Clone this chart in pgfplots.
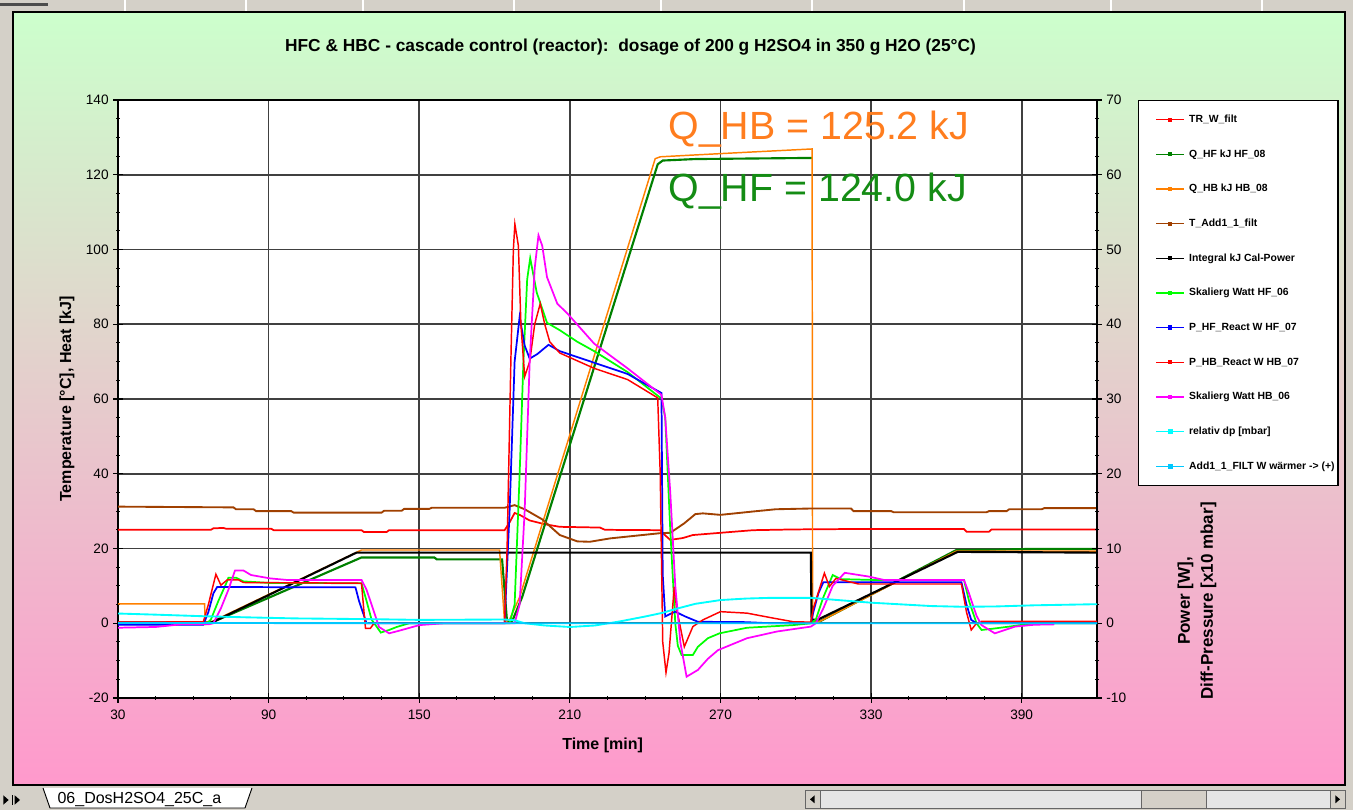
\documentclass[border=0pt]{standalone}
\usepackage{fontspec}
\setmainfont{Liberation Sans}
\usepackage{pgfplots}
\pgfplotsset{compat=1.18}

\definecolor{cOrange}{RGB}{255,128,0}
\definecolor{cDGreen}{RGB}{0,128,0}
\definecolor{cBrown}{RGB}{160,64,0}
\definecolor{cLime}{RGB}{0,255,0}
\definecolor{cCyan}{RGB}{0,255,255}
\definecolor{cSky}{RGB}{0,200,255}
\definecolor{cMag}{RGB}{255,0,255}
\definecolor{cRed}{RGB}{255,0,0}
\definecolor{cBlue}{RGB}{0,0,255}
\definecolor{bgTop}{RGB}{204,255,204}
\definecolor{bgBot}{RGB}{255,153,204}
\definecolor{winGray}{RGB}{212,208,200}
\definecolor{annOrange}{RGB}{255,125,30}
\definecolor{annGreen}{RGB}{20,140,20}

\begin{document}
\begin{tikzpicture}
\path[use as bounding box] (0,0) rectangle (1014.75pt,607.5pt);
% window frame
\fill[winGray] (0,0) rectangle (1014.75pt,607.5pt);
\foreach \sx in {125,246,363,514,661,812,964,1111,1262}{
  \draw[white, line width=0.8pt] ({\sx*0.75pt},598.5pt) -- ({\sx*0.75pt},607.5pt);}
\fill[black!70] (0pt,603pt) rectangle (36pt,605pt);
% chart area
\shade[top color=bgTop, bottom color=bgBot] (9.75pt,18.75pt) rectangle (1008.75pt,598.5pt);
\draw[black, line width=1.1pt] (9.75pt,18.75pt) rectangle (1008.75pt,598.5pt);
% bottom tab bar
\fill[black] (2.5pt,11pt) -- (6.5pt,7.5pt) -- (2.5pt,4pt) -- cycle;
\fill[black] (11pt,11pt) -- (15pt,7.5pt) -- (11pt,4pt) -- cycle;
\draw[black, line width=0.6pt] (9.5pt,11pt) -- (9.5pt,4pt);
\filldraw[fill=white, draw=black, line width=0.7pt] (32.25pt,16.5pt) -- (37.5pt,1.5pt) -- (183.75pt,1.5pt) -- (189pt,16.5pt);
\node[anchor=base west, inner sep=0pt, font=\fontsize{12}{14}\selectfont] at (43pt,4.5pt) {06\_DosH2SO4\_25C\_a};
\filldraw[fill=black!10, draw=black!60, line width=0.5pt] (603.75pt,1pt) rectangle (1008.75pt,15pt);
\filldraw[fill=winGray, draw=black!60, line width=0.5pt] (603.75pt,1pt) rectangle (615pt,15pt);
\filldraw[fill=winGray, draw=black!60, line width=0.5pt] (997.5pt,1pt) rectangle (1008.75pt,15pt);
\filldraw[fill=winGray, draw=black!60, line width=0.5pt] (855.75pt,1pt) rectangle (904.5pt,15pt);
\fill[black] (611pt,11pt) -- (607.5pt,8pt) -- (611pt,5pt) -- cycle;
\fill[black] (1001.5pt,11pt) -- (1005pt,8pt) -- (1001.5pt,5pt) -- cycle;
% title
\node[font=\bfseries\fontsize{13}{15}\selectfont] at (472.9pt,572.25pt)
  {HFC \& HBC - cascade control (reactor):\ \ dosage of 200 g H2SO4 in 350 g H2O (25°C)};
% right axis label
\node[rotate=90, align=center, font=\bfseries\fontsize{12.75}{17.25}\selectfont] at (897.75pt,156.75pt) {Power [W],\\Diff-Pressure [x10 mbar]};

\begin{axis}[
  at={(88.5pt,84pt)}, anchor=south west,
  scale only axis, width=734.25pt, height=448.5pt,
  xmin=30, xmax=420, ymin=-20, ymax=140,
  xtick={30,90,...,390}, ytick={-20,0,...,140},
  minor x tick num=3, minor y tick num=3,
  xtick pos=bottom, ytick pos=left,
  tick align=center, major tick length=7pt, minor tick length=3pt,
  tick style={black, line width=0.8pt},
  grid=major, major grid style={black!75, line width=1.2pt},
  axis background/.style={fill=white},
  axis line style={black, line width=1.1pt},
  /pgf/number format/assume math mode=true,
  ticklabel style={font=\fontsize{10.25}{12}\selectfont},
  xticklabel style={yshift=-2pt},
  xlabel={Time [min]},
  ylabel={Temperature [°C], Heat [kJ]},
  label style={font=\bfseries\fontsize{12}{14}\selectfont},
  xlabel style={at={(0.495,-0.0786)}, anchor=center},
  ylabel style={at={(-0.0521,0.5)}, anchor=center},
  unbounded coords=jump,
]
% TR_W_filt
\addplot[cRed, line width=1.3pt] coordinates {
(30,25.0) (67,25.0) (68,25.4) (72,25.5) (73,25.3) (91,25.3) (92,24.9) (127,24.9) (128,24.4) (137,24.4) (138,24.9) (184,24.9) (186,27) (188,29.5) (190,29) (194,27.5) (200,26.5) (206,25.8) (222,25.6) (224,25.0) (246,24.9) (248,23.5) (250,22.3) (255,22.8) (259,23.6) (270,24.2) (283,24.9) (299,25.1) (320,25.2) (367,25.2) (368,24.5) (377,24.5) (378,25.1) (420,25.1)};
% Q_HF
\addplot[cDGreen, line width=1.6pt] coordinates {
(30,0.3) (66,0.3) (68,0.4) (127,17.6) (156,17.6) (157,17.1) (183,17.1) (185,0.3) (187,0.5) (191,7) (245,122.8) (247,123.8) (260,124.2) (306.5,124.5) (306.6,nan) (306.7,0.3) (309,0.3) (364,19.6) (380,19.7) (395,19.9) (420,19.9)};
% Q_HB
\addplot[cOrange, line width=1.1pt] coordinates {
(30,5.2) (64.5,5.2) (64.7,0.3) (67,0.3) (127,19.6) (182,19.6) (184,0.3) (186,1) (190,7) (244,124.3) (246,124.8) (260,125.3) (280,126) (306.5,126.9) (306.7,0.3) (309,0.3) (364,19.3) (420,19.3)};
% T_Add1_1_filt
\addplot[cBrown, line width=1.4pt] coordinates {
(30,31.2) (76,31.0) (77,30.5) (84,30.5) (85,30.0) (99,30.0) (100,29.6) (135,29.6) (136,30.1) (143,30.1) (144,30.6) (154,30.6) (155,30.9) (184,30.9) (188,31.6) (192,30.5) (199,27.8) (206,23.6) (213,21.9) (218,21.8) (226,22.7) (246,24.1) (250,24.2) (255.5,26.7) (260,29.2) (263,29.4) (270,29.0) (283,29.9) (292,30.5) (306,30.7) (322,30.7) (323,30.0) (338,30.0) (339,29.7) (376,29.7) (377,30.0) (384,30.0) (385,30.5) (398,30.5) (399,30.8) (420,30.8)};
% Integral kJ Cal-Power
\addplot[black, line width=1.6pt] coordinates {
(30,0) (66,0) (68,0.4) (125,18.9) (306,18.9) (306.3,1.0) (308.6,0.9) (364.5,19.1) (420,18.9)};
\node[anchor=base west, inner sep=0pt, text=annOrange, font=\fontsize{29.5}{32}\selectfont] at (axis cs:249.2,129.3) {Q\_HB = 125.2 kJ};
\node[anchor=base west, inner sep=0pt, text=annGreen, font=\fontsize{29.5}{32}\selectfont] at (axis cs:249.2,112.8) {Q\_HF = 124.0 kJ};
\end{axis}

\begin{axis}[
  at={(88.5pt,84pt)}, anchor=south west,
  scale only axis, width=734.25pt, height=448.5pt,
  xmin=30, xmax=420, ymin=-10, ymax=70,
  axis x line=none, axis y line*=right,
  ytick={-10,0,...,70}, minor y tick num=3,
  tick align=center, major tick length=7pt, minor tick length=3pt,
  tick style={black, line width=0.8pt},
  axis line style={-, black, line width=1.1pt},
  /pgf/number format/assume math mode=true,
  ticklabel style={font=\fontsize{10.25}{12}\selectfont},
  legend style={
    at={(1.0419,1)}, anchor=north west,
    draw=black, line width=0.9pt, fill=white,
    inner xsep=2.5pt, inner ysep=10.5pt,
    row sep=18.5pt, column sep=3.2pt,
    font=\bfseries\fontsize{7.8}{9}\selectfont,
    nodes={inner sep=0pt, text height=6pt, text depth=1.5pt},
  },
  legend cell align=left,
  legend image code/.code={\path (0pt,0pt); \draw[#1,line width=1pt] (10pt,0pt) -- (31pt,0pt); \fill[#1] (19.5pt,-1pt) rectangle (21.5pt,1pt);},
]
\addlegendimage{cRed}
\addlegendentry{TR\_W\_filt}
\addlegendimage{cDGreen}
\addlegendentry{Q\_HF kJ HF\_08}
\addlegendimage{cOrange}
\addlegendentry{Q\_HB kJ HB\_08}
\addlegendimage{cBrown}
\addlegendentry{T\_Add1\_1\_filt}
\addlegendimage{black}
\addlegendentry{Integral kJ Cal-Power}
% Skalierg Watt HF_06
\addplot[cLime, line width=1.3pt] coordinates {
(30,-0.15) (65,-0.15) (67,0.5) (70,3) (73,5.25) (74,6.1) (77,6.1) (80,5.6) (90,5.4) (127,5.35) (129,3) (131,0.5) (134.7,-1.25) (138,-0.9) (141,-0.5) (146,0) (186,0) (188,2.5) (190,20) (191.5,35) (193,46) (194.2,48.85) (196.8,44.25) (200.9,40.2) (206,39.2) (213,37.65) (219.7,36.4) (233,33.6) (246.5,30.05) (248,27.5) (250,12.5) (252,0) (253,-3) (254.5,-4.25) (259,-4.25) (261,-3.15) (265,-2) (269.6,-1.35) (280.6,-0.6) (299,-0.25) (306,0) (308,0.5) (311,3.5) (314.7,6.45) (318,5.9) (330,5.8) (367,5.8) (369,3) (372,0) (374,-0.9) (378,-0.75) (385,-0.45) (395,0) (420,0)};
\addlegendentry{Skalierg Watt HF\_06}
% P_HF_React
\addplot[cBlue, line width=1.3pt] coordinates {
(30,-0.2) (64,-0.2) (66,1.5) (68,4) (69.5,4.85) (124.6,4.8) (126,3) (128,1) (129,0) (184,0) (186,15) (188,35) (190,41) (192,37.15) (194,35.4) (197,36) (201.5,37.25) (206,36.4) (219.7,34.85) (233,33.35) (246.5,30.8) (247,6.5) (248,0.9) (250,1.25) (252,1.55) (256,0.9) (261,0.2) (280,0.15) (290,0) (306,0) (307,1.5) (309,4) (311,5.5) (366,5.5) (368,2.5) (369.9,0.45) (372,0) (420,0)};
\addlegendentry{P\_HF\_React W HF\_07}
% P_HB_React
\addplot[cRed, line width=1.1pt] coordinates {
(30,0.2) (64,0.2) (66,2.5) (69,6.55) (71,5.1) (73.5,5.8) (78,5.8) (80,5.45) (127,5.35) (128,1.5) (128.6,-0.7) (130.5,-0.7) (132,0) (184,0) (185,10) (186.5,35) (187.5,50) (188.1,53.4) (189.5,50.5) (190.5,40) (192,33) (194,35) (196,40) (198.2,42.75) (200,40) (202,37.65) (206,36.15) (219.7,34.1) (233,32.6) (245,30.15) (246,20) (247,-2.5) (248.3,-6.6) (249.5,-4) (251.6,4.9) (252.5,2) (255.6,-3.15) (259,-0.45) (263,0.45) (270,1.55) (280.6,1.35) (290,0.75) (299,0.2) (306,0.15) (307,2) (311.4,6.7) (313.4,4.9) (316,6.0) (321.4,5.55) (325,5.25) (366,5.25) (368,1.5) (369.9,-0.9) (372,0) (374,0.25) (420,0.25)};
\addlegendentry{P\_HB\_React W HB\_07}
% Skalierg Watt HB_06
\addplot[cMag, line width=1.3pt] coordinates {
(30,-0.6) (45,-0.5) (55,-0.15) (66,-0.15) (68,0) (71,2) (74,4.5) (76.6,7.05) (80,7.05) (83,6.45) (90.6,6) (97,5.8) (127,5.8) (129,4.5) (132,1.5) (134,-0.5) (138,-1.35) (142,-1) (150,-0.25) (160,0) (188,0) (190,2.5) (192,15) (194,35) (196,47.5) (197.5,51.9) (199,50.5) (200.9,46.3) (205,42.75) (209,41.45) (219.7,37.4) (233,34.1) (246.5,30.55) (248,27.5) (250,17.5) (252,5) (254,-2.5) (256.5,-7.15) (261,-6.25) (265,-4.75) (269,-3.6) (280.6,-2) (292.6,-1.1) (306,-0.45) (308,0) (311,2) (314.7,5) (319.5,6.75) (329,6.25) (335,5.8) (367,5.8) (369,4) (372,1) (374,-0.25) (379.3,-1.35) (387.3,-0.45) (395,-0.2) (403,-0.15)};
\addlegendentry{Skalierg Watt HB\_06}
% relativ dp
\addplot[cCyan, line width=1.4pt] coordinates {
(30,1.3) (45,1.15) (63,0.95) (80,0.8) (100,0.65) (130,0.55) (150,0.45) (184,0.5) (188,0.4) (192,0) (200,-0.3) (210,-0.5) (220,-0.3) (230,0.25) (240,0.9) (247,1.4) (252,1.9) (260,2.6) (270,3.1) (280,3.3) (290,3.4) (306,3.4) (315,3.15) (330,2.75) (354,2.3) (367,2.2) (380,2.25) (395,2.4) (420,2.55)};
\addlegendentry{relativ dp [mbar]}
% Add1_1_FILT
\addplot[cSky, line width=1.4pt] coordinates {
(30,0.05) (150,0) (250,0) (420,0)};
\addlegendentry{Add1\_1\_FILT W wärmer -> (+)}
\end{axis}
\end{tikzpicture}
\end{document}
